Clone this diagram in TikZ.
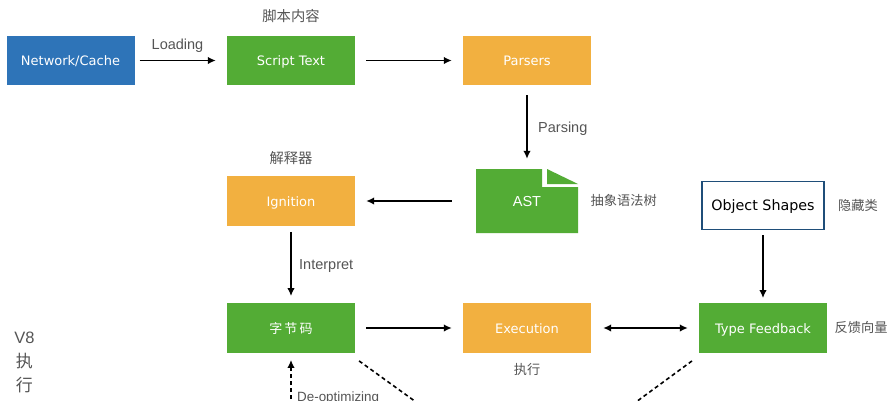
\documentclass[tikz,border=0pt]{standalone}
\usepackage{fontspec}
\setmainfont{Liberation Sans}
\newfontfamily\boxfont{DejaVu Sans}
\newfontfamily\cjk{Noto Sans CJK SC}
\usetikzlibrary{arrows.meta}
\definecolor{boxgreen}{HTML}{53AC35}
\definecolor{boxblue}{HTML}{2E74B8}
\definecolor{boxorange}{HTML}{F2B040}
\definecolor{lab}{HTML}{555555}
\definecolor{shapeedge}{HTML}{1F4E79}
\tikzset{
  x=1pt,y=-1pt,
  base/.style={minimum width=128pt,minimum height=49.5pt,inner sep=0pt,text=white,text height=10pt,text depth=0pt,font=\boxfont\fontsize{13}{14}\selectfont},
  greenbox/.style={base,fill=boxgreen},
  bluebox/.style={base,fill=boxblue},
  orangebox/.style={base,fill=boxorange},
  lbl/.style={text=lab,inner sep=0pt,text height=10pt,text depth=0pt,font=\fontsize{14.5}{16}\selectfont},
  cnlbl/.style={text=lab,inner sep=0pt,font=\cjk\fontsize{14.3}{16}\selectfont},
  cnside/.style={cnlbl,font=\cjk\fontsize{13.2}{16}\selectfont},
  flow/.style={draw=black,line width=1.5pt,-{Latex[length=8pt,width=7.5pt]},shorten <=5pt,shorten >=11pt},
  dflow/.style={flow,{Latex[length=8pt,width=7.5pt]}-{Latex[length=8pt,width=7.5pt]},shorten <=12pt,shorten >=11pt},
  dashline/.style={draw=black,line width=1.6pt,dash pattern=on 4pt off 3pt,shorten <=5pt},
}
\begin{document}
\begin{tikzpicture}
\useasboundingbox (0,0) rectangle (892,400);
\clip (0,0) rectangle (892,400);
\fill[white] (0,0) rectangle (892,400);

\node[bluebox] (net) at (70.5,60.5) {Network/Cache};
\node[greenbox] (script) at (291,60.5) {Script Text};
\node[orangebox] (parsers) at (527,60.5) {Parsers};
\node[orangebox] (ign) at (291,201) {Ignition};
\node[greenbox,font=\cjk\fontsize{13}{14}\selectfont] (byte) at (291,328) {字\,节\,码};
\node[orangebox] (exec) at (527,328) {Execution};
\node[greenbox] (type) at (763,328) {Type Feedback};
\node[base,minimum width=122pt,minimum height=48pt,fill=white,draw=shapeedge,line width=1.2pt,text=black,font=\boxfont\fontsize{14.3}{15}\selectfont] (shapes) at (763,205.5) {Object Shapes};

% AST document shape
\fill[boxgreen] (476,169) -- (542,169) -- (542,187) -- (578,187) -- (578,233) -- (476,233) -- cycle;
\fill[boxgreen] (547,169) -- (578,184) -- (547,184) -- cycle;
\node[minimum width=102pt,minimum height=64pt,inner sep=0pt,text=white,text height=10pt,text depth=0pt,font=\fontsize{14.5}{16}\selectfont] (ast) at (527,201) {AST};

\coordinate (opt) at (527,482);

\draw[flow] (net.east) -- (script.west);
\draw[flow,shorten <=11pt] (script.east) -- (parsers.west);
\draw[flow,shorten <=10pt,shorten >=10pt] (parsers.south) -- (ast.north);
\draw[flow,shorten <=24pt] (ast.west) -- (ign.east);
\draw[flow,shorten <=6pt,shorten >=7pt] (ign.south) -- (byte.north);
\draw[flow,shorten <=11pt] (byte.east) -- (exec.west);
\draw[dflow] (exec.east) -- (type.west);
\draw[flow,shorten <=5pt,shorten >=5pt] (shapes.south) -- (type.north);
\coordinate (deopt) at (291,420);
\draw[flow,dash pattern=on 4pt off 3pt,shorten <=0pt,shorten >=7pt] (deopt) -- (byte.south);
\coordinate (bytecorner) at (355,358);
\coordinate (typecorner) at (696,358);
\draw[dashline] (bytecorner) -- (opt);
\draw[dashline] (typecorner) -- (opt);

\node[lbl] (l1) at (177.5,44) {Loading};
\node[lbl,anchor=west] (l2) at (538,127.5) {Parsing};
\node[lbl,anchor=west] (l3) at (299,264.5) {Interpret};
\node[lbl,anchor=west,font=\fontsize{13.4}{15}\selectfont] (l4) at (297,396) {De-optimizing};
\node[cnlbl] (c1) at (291,16.5) {脚本内容};
\node[cnlbl] (c2) at (291,158.5) {解释器};
\node[cnside,anchor=west] (c3) at (590.5,200.5) {抽象语法树};
\node[cnside,anchor=west] (c4) at (838,205) {隐藏类};
\node[cnside,anchor=west] (c5) at (834.5,327.5) {反馈向量};
\node[cnside] (c6) at (527,369.5) {执行};
\node[lbl,font=\fontsize{16.5}{18}\selectfont] (v1) at (24.5,338.5) {V8};
\node[cnlbl,font=\cjk\fontsize{17}{18}\selectfont] (v2) at (24.5,361.5) {执};
\node[cnlbl,font=\cjk\fontsize{17}{18}\selectfont] (v3) at (24.5,385) {行};
\end{tikzpicture}
\end{document}
